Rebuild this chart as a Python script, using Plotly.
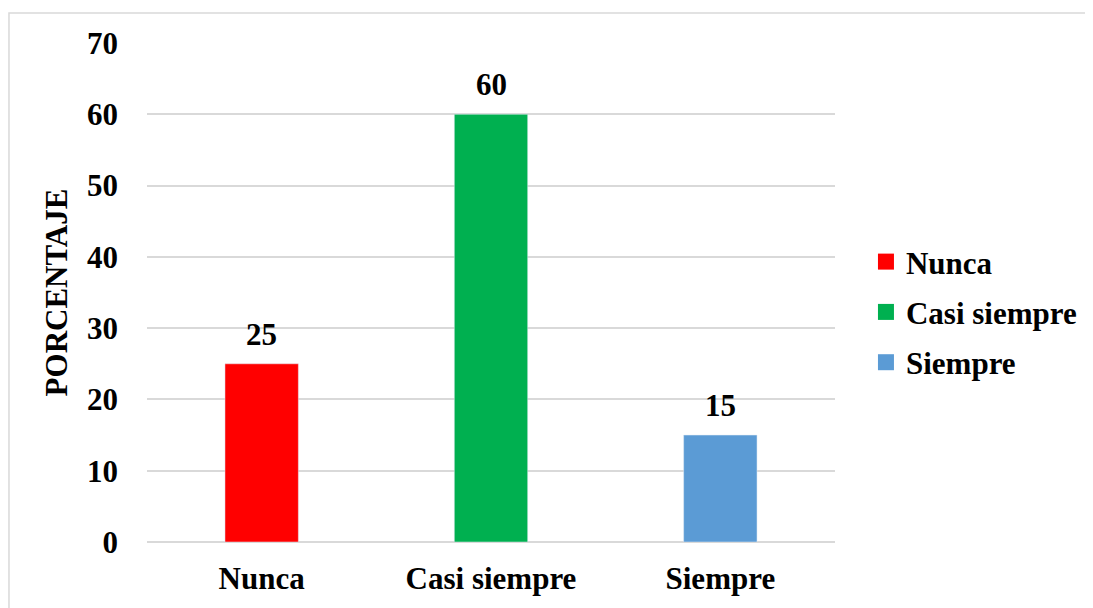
import plotly.graph_objects as go

categories = ["Nunca", "Casi siempre", "Siempre"]
values = [25, 60, 15]
colors = ["#FF0000", "#00B050", "#5B9BD5"]
y_ticks = [0, 10, 20, 30, 40, 50, 60, 70]

FONT = "Liberation Serif"
FS = 31
bold = dict(family=FONT, size=FS, color="black", weight="bold")

fig = go.Figure()
for i, (c, v, col) in enumerate(zip(categories, values, colors)):
    fig.add_trace(go.Bar(
        x=[c], y=[v], name=c, marker_color=col, width=0.32,
        showlegend=False, hoverinfo="x+y",
    ))
    fig.add_annotation(x=c, y=v, text=str(v), showarrow=False,
                       yanchor="bottom", yshift=10, font=bold)
    fig.add_trace(go.Scatter(
        x=[None], y=[None], mode="markers", name=c,
        marker=dict(symbol="square", size=17, color=col),
        legendgroup=f"g{i}",
    ))

fig.update_layout(
    width=1093, height=608,
    margin=dict(l=139, r=266, t=35, b=74),
    paper_bgcolor="white", plot_bgcolor="white",
    barmode="overlay",
    font=dict(family=FONT, color="black"),
    showlegend=True,
    legend=dict(x=1.045, y=0.461, xanchor="left", yanchor="middle",
                font=bold, tracegroupgap=7, itemwidth=30,
                itemsizing="trace"),
    xaxis=dict(categoryorder="array", categoryarray=categories,
               tickfont=bold, automargin=False,
               showline=False, showgrid=False, ticks="",
               ticklabelstandoff=15),
    yaxis=dict(range=[0, 70], tickvals=y_ticks, tickfont=bold,
               automargin=False,
               showgrid=True, gridcolor="#D9D9D9", gridwidth=1.5,
               zeroline=True, zerolinecolor="#D9D9D9", zerolinewidth=1.5,
               showline=False, ticks="", ticklabelstandoff=28,
               title=dict(text="PORCENTAJE", font=bold, standoff=10)),
    shapes=[dict(type="rect", xref="paper", yref="paper",
                 x0=-0.2006, x1=1.7, y0=-0.3, y1=1.0601,
                 line=dict(color="#D9D9D9", width=1.5),
                 fillcolor="rgba(0,0,0,0)", layer="below")],
)

fig.write_html("out.html")
